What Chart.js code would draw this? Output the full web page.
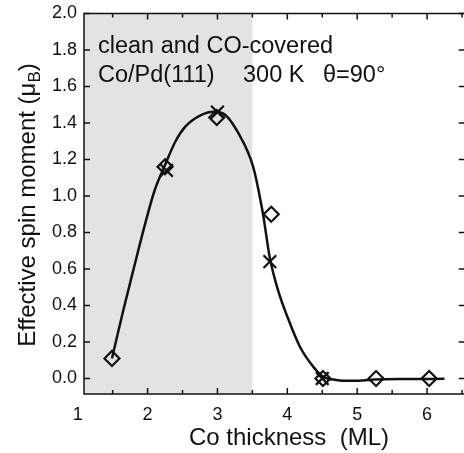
<!DOCTYPE html>
<html>
<head>
<meta charset="utf-8">
<script src="https://cdn.jsdelivr.net/npm/chart.js@4"></script>
<style>
  html, body { margin: 0; padding: 0; background: #fff; overflow: hidden; }
  #wrap { width: 464px; height: 453px; overflow: hidden; }
</style>
</head>
<body>
<div id="wrap"><canvas id="spinChart" width="476" height="453"></canvas></div>
<script>
// fitted curve through both data sets
const curveX = [1.49, 1.65, 1.80, 1.96, 2.10, 2.25, 2.40, 2.54, 2.77, 2.94, 3.08, 3.30, 3.51, 3.65, 3.75, 3.87, 4.00, 4.18, 4.37, 4.51, 4.70, 4.95, 5.25, 5.70, 6.25];
const curveY = [0.11, 0.37, 0.60, 0.84, 1.03, 1.17, 1.30, 1.38, 1.444, 1.462, 1.453, 1.344, 1.161, 0.905, 0.66, 0.48, 0.339, 0.174, 0.065, 0.01, -0.008, -0.013, -0.006, -0.003, -0.002];

// clean Co/Pd(111)
const cleanX = [1.49, 2.25, 2.99, 3.77, 4.51, 5.27, 6.03];
const cleanY = [0.11, 1.16, 1.43, 0.90, 0.0, 0.0, 0.0];

// CO-covered
const coX = [2.27, 3.0, 3.75, 4.5];
const coY = [1.14, 1.46, 0.64, 0.0];

const xTicks = [1, 2, 3, 4, 5, 6];
const xMinor = [1.5, 2.5, 3.5, 4.5, 5.5, 6.5];
const yTicks = [0.0, 0.2, 0.4, 0.6, 0.8, 1.0, 1.2, 1.4, 1.6, 1.8, 2.0];
const shadeEnd = 3.5;

const FONT = "'Liberation Sans', Arial, sans-serif";

const toPoints = (xs, ys) => xs.map((x, i) => ({ x: x, y: ys[i] }));

const framePlugin = {
  id: "frame",
  beforeDatasetsDraw(chart) {
    const { ctx, chartArea: a, scales: { x } } = chart;
    ctx.save();
    ctx.fillStyle = "#e3e3e3";
    ctx.fillRect(a.left, a.top, x.getPixelForValue(shadeEnd) - a.left, a.bottom - a.top);
    ctx.restore();
  },
  afterDraw(chart) {
    const { ctx, chartArea: a, scales: { x, y } } = chart;
    ctx.save();
    ctx.strokeStyle = "#111";
    ctx.lineWidth = 1.5;
    ctx.strokeRect(a.left, a.top, a.right - a.left, a.bottom - a.top);

    // inward tick marks
    ctx.beginPath();
    xTicks.concat(xMinor).forEach((v) => {
      if (v <= x.min || v >= x.max) return;
      const px = x.getPixelForValue(v);
      const len = xTicks.includes(v) ? 6 : 4;
      ctx.moveTo(px, a.bottom);
      ctx.lineTo(px, a.bottom - len);
      ctx.moveTo(px, a.top);
      ctx.lineTo(px, a.top + len);
    });
    yTicks.forEach((v) => {
      const py = y.getPixelForValue(v);
      ctx.moveTo(a.left, py);
      ctx.lineTo(a.left + 6, py);
      ctx.moveTo(a.right, py);
      ctx.lineTo(a.right - 6, py);
    });
    ctx.stroke();

    // legend text inside the plot
    ctx.fillStyle = "#111";
    ctx.font = "23.5px " + FONT;
    ctx.textBaseline = "alphabetic";
    ctx.textAlign = "left";
    ctx.fillText("clean and CO-covered", 98, 53);
    ctx.fillText("Co/Pd(111)", 98, 82);
    ctx.fillText("300 K", 243, 82);
    ctx.fillText("\u03B8=90\u00B0", 323, 82);

    // x axis title
    ctx.font = "24px " + FONT;
    ctx.textAlign = "center";
    ctx.fillText("Co thickness  (ML)", 289, 445);

    // y axis title with subscript B
    const main = "Effective spin moment (\u03BC";
    ctx.font = "24px " + FONT;
    const w1 = ctx.measureText(main).width;
    const w3 = ctx.measureText(")").width;
    ctx.font = "17px " + FONT;
    const w2 = ctx.measureText("B").width;
    const total = w1 + w2 + w3;
    ctx.translate(35, 205);
    ctx.rotate(-Math.PI / 2);
    ctx.textAlign = "left";
    let cx = -total / 2;
    ctx.font = "24px " + FONT;
    ctx.fillText(main, cx, 0);
    cx += w1;
    ctx.font = "17px " + FONT;
    ctx.fillText("B", cx, 5);
    cx += w2;
    ctx.font = "24px " + FONT;
    ctx.fillText(")", cx, 0);
    ctx.restore();
  },
};

const ctx = document.getElementById("spinChart").getContext("2d");

const spinChart = new Chart(ctx, {
  type: "scatter",
  data: {
    datasets: [
      {
        label: "CO-covered",
        data: toPoints(coX, coY),
        pointStyle: "crossRot",
        pointRadius: 9,
        borderColor: "#111",
        borderWidth: 2.2,
        showLine: false,
      },
      {
        label: "clean",
        data: toPoints(cleanX, cleanY),
        pointStyle: "rectRot",
        pointRadius: 7.5,
        borderColor: "#111",
        backgroundColor: "rgba(0,0,0,0)",
        borderWidth: 2.2,
        showLine: false,
      },
      {
        label: "fit",
        data: toPoints(curveX, curveY),
        showLine: true,
        pointRadius: 0,
        borderColor: "#111",
        borderWidth: 2.5,
        cubicInterpolationMode: "monotone",
        fill: false,
      },
    ],
  },
  options: {
    responsive: false,
    animation: false,
    layout: { padding: { top: 13.5, right: 5, left: 0, bottom: 0 } },
    scales: {
      x: {
        type: "linear",
        min: 1.09,
        max: 6.54,
        grid: { display: false, drawTicks: false },
        border: { display: false },
        afterBuildTicks: (scale) => {
          scale.ticks = xTicks.map((v) => ({ value: v }));
        },
        afterFit: (scale) => {
          scale.height = 59;
          scale.paddingLeft = 0;
          scale.paddingRight = 0;
        },
        ticks: {
          autoSkip: false,
          maxRotation: 0,
          padding: 10,
          color: "#111",
          font: { size: 18, family: FONT },
          callback: (v) => String(v),
        },
      },
      y: {
        min: -0.085,
        max: 2.0,
        grid: { display: false, drawTicks: false },
        border: { display: false },
        afterBuildTicks: (scale) => {
          scale.ticks = yTicks.map((v) => ({ value: v }));
        },
        afterFit: (scale) => {
          scale.width = 84;
          scale.paddingTop = 0;
          scale.paddingBottom = 0;
        },
        ticks: {
          autoSkip: false,
          padding: 7,
          color: "#111",
          font: { size: 18, family: FONT },
          callback: (v) => v.toFixed(1),
        },
      },
    },
    plugins: {
      legend: { display: false },
      tooltip: { enabled: false },
    },
  },
  plugins: [framePlugin],
});
</script>
</body>
</html>
